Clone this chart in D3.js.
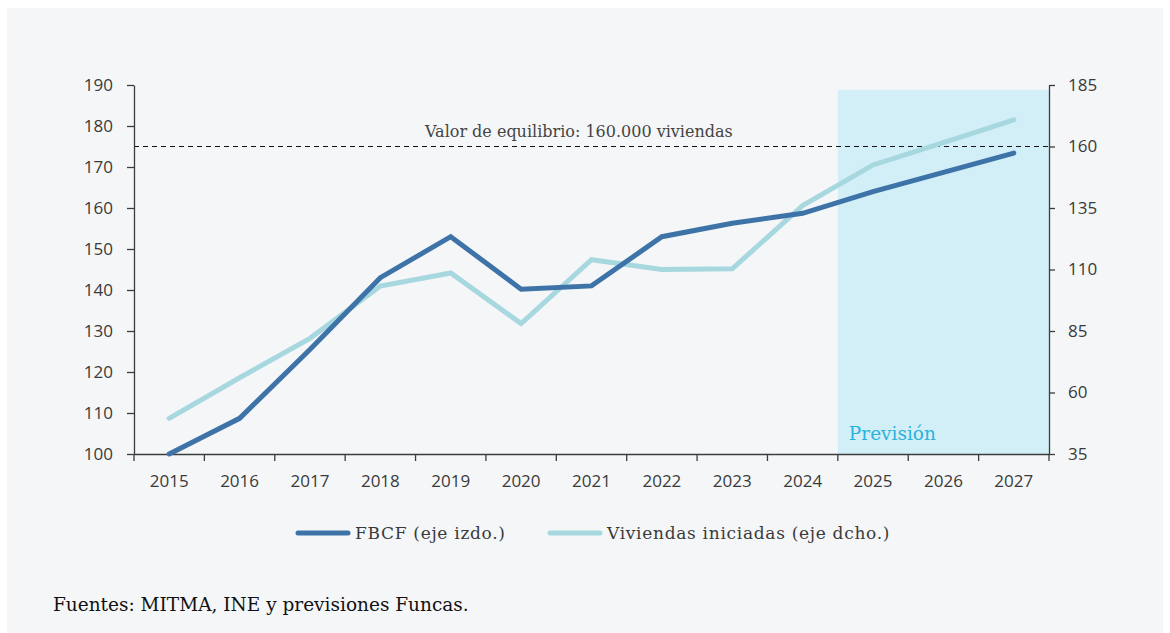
<!DOCTYPE html>
<html lang="es">
<head>
<meta charset="utf-8">
<script src="https://cdn.jsdelivr.net/npm/d3@7"></script>
<style>
  html, body { margin: 0; padding: 0; background: #ffffff; }
  svg { display: block; }
</style>
</head>
<body>
<svg id="chart" width="1170" height="633"></svg>
<script>
// Años del eje horizontal
const years = ["2015","2016","2017","2018","2019","2020","2021","2022","2023","2024","2025","2026","2027"];
// FBCF en vivienda (índice, eje izquierdo)
const fbcf = [100, 108.7, 125.5, 143, 153, 140.2, 141, 153, 156.3, 158.7, 164, 168.7, 173.4];
// Viviendas iniciadas (miles, eje derecho)
const viviendas = [49.5, 66, 82, 103.3, 108.6, 88, 114, 110, 110.3, 136, 152.5, 161.6, 170.8];
// Marcas de los ejes
const leftTicks = [100, 110, 120, 130, 140, 150, 160, 170, 180, 190];
const rightTicks = [35, 60, 85, 110, 135, 160, 185];
// Nivel de equilibrio (miles de viviendas) y tramo de previsión
const equilibrio = 160;
const forecastYears = ["2025", "2026", "2027"];
const forecastTop = 183;

const svg = d3.select("#chart");
const W = 1170, H = 633;
const plot = { left: 134, right: 1049, top: 85, bottom: 454 };

const sansFont = "'Open Sans', 'Noto Sans', sans-serif";
const serifFont = "'DejaVu Serif', serif";
const axisColor = "#3c3c3c";
const textColor = "#3a3a3a";
const colFbcf = "#3e73a8";
const colViv = "#a7d8df";

// Panel de fondo
svg.append("rect")
  .attr("x", 7).attr("y", 8)
  .attr("width", W - 14).attr("height", H - 8)
  .attr("fill", "#f5f6f8");

const x = d3.scaleBand().domain(years).range([plot.left, plot.right]);
const yL = d3.scaleLinear().domain([100, 190]).range([plot.bottom, plot.top]);
const yR = d3.scaleLinear().domain([35, 185]).range([plot.bottom, plot.top]);
const cx = d => x(d) + x.bandwidth() / 2;

// Zona sombreada de previsión
const fx0 = x(forecastYears[0]);
svg.append("rect")
  .attr("x", fx0)
  .attr("y", yR(forecastTop))
  .attr("width", plot.right - fx0)
  .attr("height", plot.bottom - yR(forecastTop))
  .attr("fill", "#d2eff7");

svg.append("text")
  .attr("x", fx0 + 11)
  .attr("y", plot.bottom - 14)
  .attr("font-family", serifFont)
  .attr("font-size", 18.5)
  .attr("fill", "#2bb2dc")
  .text("Previsión");

// Línea de equilibrio
svg.append("line")
  .attr("x1", plot.left).attr("x2", plot.right)
  .attr("y1", yR(equilibrio)).attr("y2", yR(equilibrio))
  .attr("stroke", "#111")
  .attr("stroke-width", 1)
  .attr("stroke-dasharray", "5,4");

svg.append("text")
  .attr("x", 425)
  .attr("y", yR(equilibrio) - 10)
  .attr("font-family", serifFont)
  .attr("font-size", 16)
  .attr("fill", "#444")
  .text("Valor de equilibrio: 160.000 viviendas");

// Ejes
function styleAxis(g) {
  g.select(".domain").attr("stroke", axisColor).attr("stroke-width", 1.3);
  g.selectAll(".tick line").attr("stroke", axisColor).attr("stroke-width", 1.3);
  g.selectAll(".tick text")
    .attr("font-family", sansFont)
    .attr("font-size", 17)
    .attr("fill", textColor);
}

svg.append("g")
  .attr("transform", `translate(${plot.left},0)`)
  .call(d3.axisLeft(yL).tickValues(leftTicks).tickSize(7).tickPadding(14).tickSizeOuter(0))
  .call(styleAxis);

svg.append("g")
  .attr("transform", `translate(${plot.right},0)`)
  .call(d3.axisRight(yR).tickValues(rightTicks).tickSize(6).tickPadding(13).tickSizeOuter(0))
  .call(styleAxis);

const xAxis = svg.append("g")
  .attr("transform", `translate(0,${plot.bottom})`)
  .call(d3.axisBottom(x).tickSize(0).tickPadding(21).tickSizeOuter(0))
  .call(styleAxis);

// Marcas del eje X en los límites entre años
const bounds = years.map(d => x(d)).concat([plot.right]);
xAxis.selectAll(".bound")
  .data(bounds)
  .join("line")
  .attr("class", "bound")
  .attr("x1", d => d).attr("x2", d => d)
  .attr("y1", 0).attr("y2", 7)
  .attr("stroke", axisColor)
  .attr("stroke-width", 1.3);

// Series
const lineL = d3.line().x((d, i) => cx(years[i])).y(d => yL(d));
const lineR = d3.line().x((d, i) => cx(years[i])).y(d => yR(d));

svg.append("path")
  .datum(viviendas)
  .attr("d", lineR)
  .attr("fill", "none")
  .attr("stroke", colViv)
  .attr("stroke-width", 5)
  .attr("stroke-linecap", "round")
  .attr("stroke-linejoin", "miter");

svg.append("path")
  .datum(fbcf)
  .attr("d", lineL)
  .attr("fill", "none")
  .attr("stroke", colFbcf)
  .attr("stroke-width", 5)
  .attr("stroke-linecap", "round")
  .attr("stroke-linejoin", "miter");

// Leyenda
const legendItems = [
  { label: "FBCF (eje izdo.)", color: colFbcf, x: 298 },
  { label: "Viviendas iniciadas (eje dcho.)", color: colViv, x: 550 }
];
const legend = svg.append("g").attr("transform", "translate(0,533)");
legendItems.forEach(it => {
  legend.append("line")
    .attr("x1", it.x).attr("x2", it.x + 50)
    .attr("y1", 0).attr("y2", 0)
    .attr("stroke", it.color)
    .attr("stroke-width", 5)
    .attr("stroke-linecap", "round");
  legend.append("text")
    .attr("x", it.x + 57)
    .attr("y", 6)
    .attr("font-family", serifFont)
    .attr("font-size", 17)
    .attr("letter-spacing", 0.7)
    .attr("fill", textColor)
    .text(it.label);
});

// Fuente
svg.append("text")
  .attr("x", 53)
  .attr("y", 611)
  .attr("font-family", serifFont)
  .attr("font-size", 18.5)
  .attr("fill", "#111")
  .text("Fuentes: MITMA, INE y previsiones Funcas.");
</script>
</body>
</html>
